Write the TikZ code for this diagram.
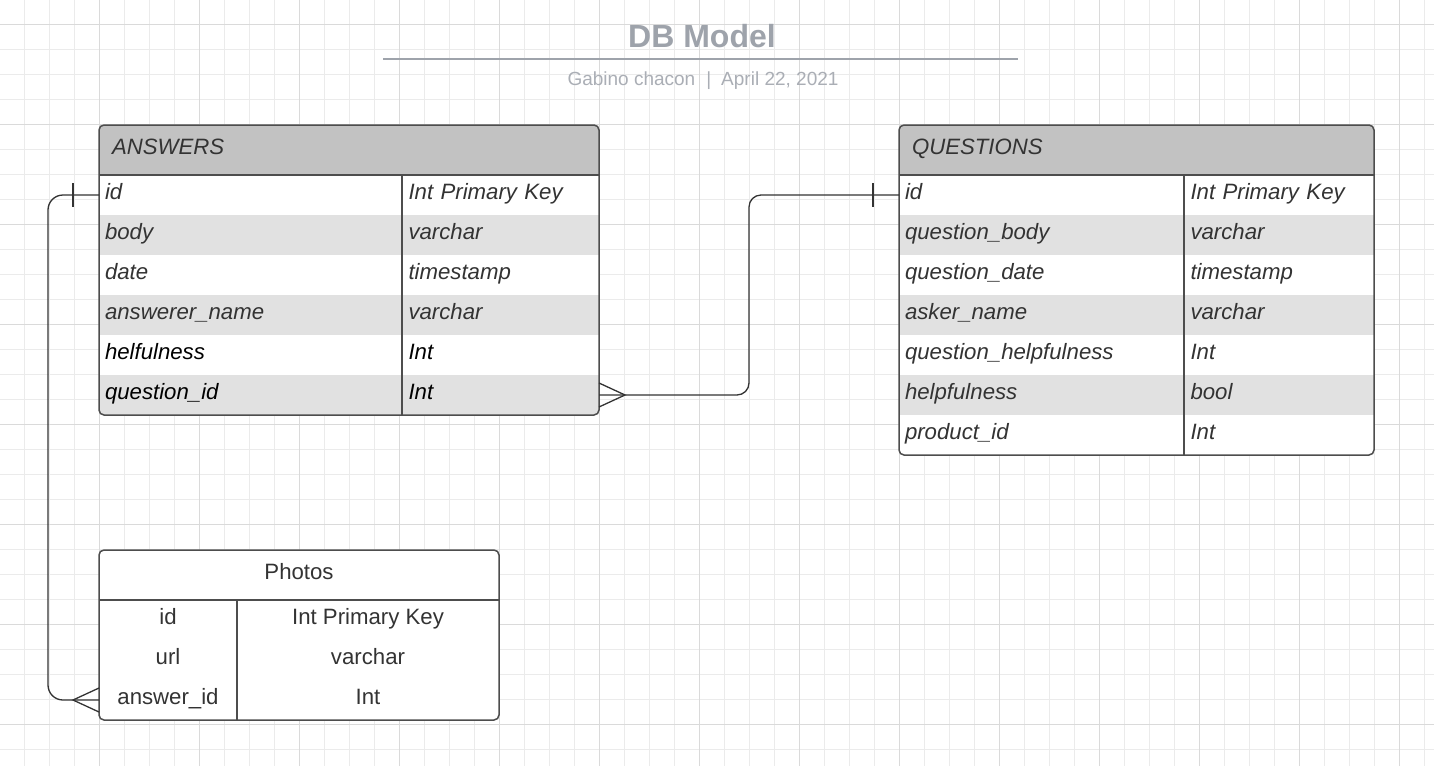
\documentclass[tikz,border=0pt]{standalone}
\usepackage{fontspec}
\setmainfont{Liberation Sans}
\definecolor{gridlight}{HTML}{EBEBEB}
\definecolor{griddark}{HTML}{DADADA}
\definecolor{titlegrey}{HTML}{9EA3AB}
\definecolor{subgrey}{HTML}{AAAEB5}
\definecolor{headgrey}{HTML}{C2C2C2}
\definecolor{rowgrey}{HTML}{E1E1E1}
\definecolor{edgegrey}{HTML}{4D4D4D}
\definecolor{inkgrey}{HTML}{333333}
\tikzset{
	gridminor/.style={draw=gridlight,line width=1pt},
	gridmajor/.style={draw=griddark,line width=1pt},
	tabline/.style={draw=edgegrey,line width=1.5pt},
	relline/.style={draw=inkgrey,line width=1.3pt},
	cell/.style={anchor=north west,outer sep=0pt,inner ysep=0pt,minimum height=40pt,text height=15pt,text depth=6pt,text=inkgrey,font=\fontsize{22.2}{26}\selectfont\itshape},
	headcell/.style={cell,minimum height=50pt,fill=headgrey,inner xsep=13pt,align=left,text width=#1},
	namecell/.style={cell,inner xsep=6pt,align=left,text width=#1},
	typecell/.style={cell,inner xsep=6.5pt,align=left,text width=#1},
	photocell/.style={cell,font=\fontsize{22.2}{26}\selectfont,inner xsep=0pt,minimum width=#1},
	greyrow/.style={fill=rowgrey},
}
\begin{document}
\begin{tikzpicture}[x=1pt,y=-1pt]
	\useasboundingbox (0,0) rectangle (1434,766);
	\fill[white] (0,0) rectangle (1434,766);
	\foreach \gx in {24,49,...,1424} \draw[gridminor] (\gx,0) -- (\gx,766);
	\foreach \gy in {24,49,...,749} \draw[gridminor] (0,\gy) -- (1434,\gy);
	\foreach \gx in {99,199,...,1399} \draw[gridmajor] (\gx,0) -- (\gx,766);
	\foreach \gy in {24,124,...,724} \draw[gridmajor] (0,\gy) -- (1434,\gy);

	\node[font=\fontsize{32}{36}\selectfont\bfseries,text=titlegrey,anchor=base] (title) at (702,47) {DB Model};
	\draw[titlegrey,line width=2.5pt] (383,59) -- (1018,59);
	\node[font=\fontsize{19}{22}\selectfont,text=subgrey,anchor=base] (byline) at (703,85) {Gabino chacon\hspace{11pt}|\hspace{10pt}April 22, 2021};

	\begin{scope}
		\clip[rounded corners=5pt] (99,125) rectangle (599,415);
		\fill[white] (99,125) rectangle (599,415);
		\node[headcell=474pt] (anshead) at (99,125) {ANSWERS};
		\node[namecell=291pt] (ansid) at (99,175) {id};
		\node[typecell=184pt] (ansidtype) at (402,175) {Int Primary Key};
		\node[namecell=291pt,greyrow] (ansbody) at (99,215) {body};
		\node[typecell=184pt,greyrow] (ansbodytype) at (402,215) {varchar};
		\node[namecell=291pt] (ansdate) at (99,255) {date};
		\node[typecell=184pt] (ansdatetype) at (402,255) {timestamp};
		\node[namecell=291pt,greyrow] (ansname) at (99,295) {answerer\_name};
		\node[typecell=184pt,greyrow] (ansnametype) at (402,295) {varchar};
		\node[namecell=291pt,text=black] (anshelp) at (99,335) {helfulness};
		\node[typecell=184pt,text=black] (anshelptype) at (402,335) {Int};
		\node[namecell=291pt,greyrow,text=black] (ansqid) at (99,375) {question\_id};
		\node[typecell=184pt,greyrow,text=black] (ansqidtype) at (402,375) {Int};
	\end{scope}
	\draw[tabline,rounded corners=5pt] (anshead.north west) rectangle (ansqidtype.south east);
	\draw[tabline] (anshead.south west) -- (anshead.south east);
	\draw[tabline] (ansidtype.north west) -- (ansqidtype.south west);

	\begin{scope}
		\clip[rounded corners=5pt] (899,125) rectangle (1374,455);
		\fill[white] (899,125) rectangle (1374,455);
		\node[headcell=449pt] (qhead) at (899,125) {QUESTIONS};
		\node[namecell=273pt] (qid) at (899,175) {id};
		\node[typecell=177pt] (qidtype) at (1184,175) {Int Primary Key};
		\node[namecell=273pt,greyrow] (qbody) at (899,215) {question\_body};
		\node[typecell=177pt,greyrow] (qbodytype) at (1184,215) {varchar};
		\node[namecell=273pt] (qdate) at (899,255) {question\_date};
		\node[typecell=177pt] (qdatetype) at (1184,255) {timestamp};
		\node[namecell=273pt,greyrow] (qasker) at (899,295) {asker\_name};
		\node[typecell=177pt,greyrow] (qaskertype) at (1184,295) {varchar};
		\node[namecell=273pt] (qqhelp) at (899,335) {question\_helpfulness};
		\node[typecell=177pt] (qqhelptype) at (1184,335) {Int};
		\node[namecell=273pt,greyrow] (qhelp) at (899,375) {helpfulness};
		\node[typecell=177pt,greyrow] (qhelptype) at (1184,375) {bool};
		\node[namecell=273pt] (qprod) at (899,415) {product\_id};
		\node[typecell=177pt] (qprodtype) at (1184,415) {Int};
	\end{scope}
	\draw[tabline,rounded corners=5pt] (qhead.north west) rectangle (qprodtype.south east);
	\draw[tabline] (qhead.south west) -- (qhead.south east);
	\draw[tabline] (qidtype.north west) -- (qprodtype.south west);

	\fill[white,rounded corners=5pt] (99,550) rectangle (499,720);
	\node[photocell=400pt,minimum height=50pt] (phhead) at (99,550) {Photos};
	\node[photocell=138pt] (phid) at (99,600) {id};
	\node[photocell=262pt] (phidtype) at (237,600) {Int Primary Key};
	\node[photocell=138pt] (phurl) at (99,640) {url};
	\node[photocell=262pt] (phurltype) at (237,640) {varchar};
	\node[photocell=138pt] (phaid) at (99,680) {answer\_id};
	\node[photocell=262pt] (phaidtype) at (237,680) {Int};
	\draw[tabline,rounded corners=5pt] (phhead.north west) rectangle (phaidtype.south east);
	\draw[tabline] (phhead.south west) -- (phhead.south east);
	\draw[tabline] (phidtype.north west) -- (phaidtype.south west);

	\draw[relline,rounded corners=12pt] (qid.west) -- ++(-150,0) |- (ansqidtype.east);
	\draw[relline] ([xshift=-26pt,yshift=12pt]qid.west) -- ([xshift=-26pt,yshift=-12pt]qid.west);
	\draw[relline] ([yshift=12pt]ansqidtype.east) -- ([xshift=26pt]ansqidtype.east) -- ([yshift=-12pt]ansqidtype.east);

	\draw[relline,rounded corners=15pt] (ansid.west) -- ++(-51,0) |- (phaid.west);
	\draw[relline] ([xshift=-26pt,yshift=12pt]ansid.west) -- ([xshift=-26pt,yshift=-12pt]ansid.west);
	\draw[relline] ([yshift=12pt]phaid.west) -- ([xshift=-26pt]phaid.west) -- ([yshift=-12pt]phaid.west);
\end{tikzpicture}
\end{document}
